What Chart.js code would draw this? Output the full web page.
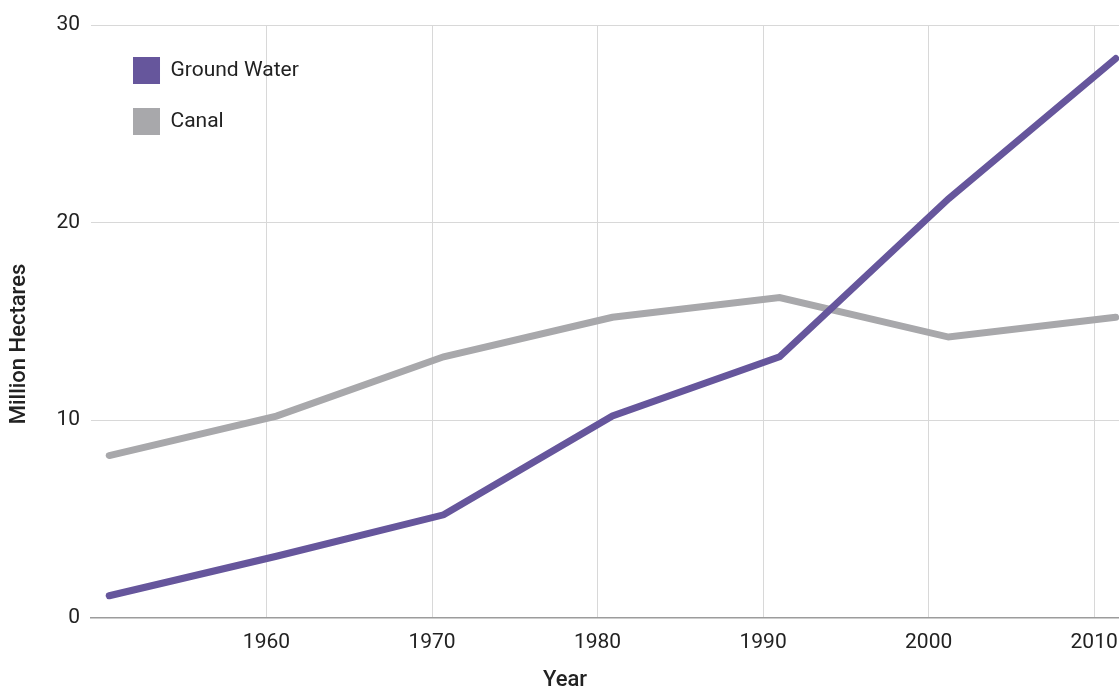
<!DOCTYPE html>
<html>
<head>
<meta charset="utf-8">
<title>Irrigated area by source</title>
<script src="https://cdn.jsdelivr.net/npm/chart.js@4/dist/chart.umd.min.js"></script>
<style>
  html, body { margin: 0; padding: 0; background: #fff; }
  #wrap { width: 1119px; height: 688px; }
</style>
</head>
<body>
<div id="wrap"><canvas id="chart" width="1119" height="688"></canvas></div>
<script>
/* ========= Data ========= */
const yearPoints = [1950.5, 1960.6, 1970.7, 1980.9, 1991.0, 2001.2, 2011.3];
const groundWater = [1.1, 3.1, 5.2, 10.2, 13.2, 21.2, 28.3];
const canal = [8.2, 10.2, 13.2, 15.2, 16.2, 14.2, 15.2];
const xTickYears = [1960, 1970, 1980, 1990, 2000, 2010];
const yTickValues = [0, 10, 20, 30];

const PURPLE = "#66569c";
const GREY = "#a8a8ab";
const TEXT = "#222";

/* ========= Helpers ========= */
function toPoints(xs, ys) {
  return xs.map((x, i) => ({ x: x, y: ys[i] }));
}

// legend sits inside the plot, a bit in from the corner
const legendNudge = {
  id: "legendNudge",
  afterLayout(chart) {
    const lg = chart.legend;
    if (!lg) return;
    lg.left += 18;
    lg.top += 33;
  }
};

Chart.defaults.font.family = "Roboto, 'Noto Sans', sans-serif";

/* ========= Chart ========= */
new Chart(document.getElementById("chart").getContext("2d"), {
  type: "line",
  data: {
    datasets: [
      {
        label: "Ground Water",
        data: toPoints(yearPoints, groundWater),
        borderColor: PURPLE,
        backgroundColor: PURPLE,
        borderWidth: 7,
        borderCapStyle: "round",
        pointRadius: 0,
        tension: 0
      },
      {
        label: "Canal",
        data: toPoints(yearPoints, canal),
        borderColor: GREY,
        backgroundColor: GREY,
        borderWidth: 7,
        borderCapStyle: "round",
        pointRadius: 0,
        tension: 0
      }
    ]
  },
  options: {
    responsive: false,
    animation: false,
    layout: { padding: { left: 11, top: 0, right: 0, bottom: 0 } },
    plugins: {
      legend: {
        position: "chartArea",
        align: "start",
        labels: {
          boxWidth: 27,
          boxHeight: 27,
          padding: 24,
          color: TEXT,
          font: { size: 21 },
          generateLabels(chart) {
            return Chart.defaults.plugins.legend.labels.generateLabels(chart)
              .map(l => Object.assign(l, { lineWidth: 0 }));
          }
        }
      },
      tooltip: { enabled: false },
      title: {
        display: true,
        text: "Year",
        position: "bottom",
        color: TEXT,
        font: { size: 22, weight: "500", lineHeight: 0.7 },
        padding: { top: 4.6, bottom: 0.3 }
      },
      subtitle: {
        display: true,
        text: "Million Hectares",
        position: "left",
        color: TEXT,
        font: { size: 22, weight: "500", lineHeight: 0.7 },
        padding: { top: 0.3, bottom: 18.7 }
      }
    },
    scales: {
      x: {
        type: "linear",
        min: 1949.4,
        max: 2011.5,
        afterBuildTicks(scale) {
          scale.ticks = xTickYears.map(v => ({ value: v }));
        },
        afterFit(scale) {
          scale.paddingLeft = 0;
          scale.paddingRight = 0;
        },
        ticks: {
          color: TEXT,
          font: { size: 21 },
          padding: 12.5,
          maxRotation: 0,
          callback: v => String(v)
        },
        grid: { color: "#d8d8d8", lineWidth: 1, drawTicks: false },
        border: { display: true, color: "#9c9c9c", width: 1.5 }
      },
      y: {
        min: 0,
        max: 30,
        afterBuildTicks(scale) {
          scale.ticks = yTickValues.map(v => ({ value: v }));
        },
        afterFit(scale) {
          scale.paddingTop = 25;
        },
        ticks: {
          color: TEXT,
          font: { size: 21 },
          padding: 11
        },
        grid: {
          color: ctx => (ctx.tick && ctx.tick.value === 0 ? "rgba(0,0,0,0)" : "#d8d8d8"),
          lineWidth: 1,
          drawTicks: false
        },
        border: { display: false }
      }
    }
  },
  plugins: [legendNudge]
});
</script>
</body>
</html>
